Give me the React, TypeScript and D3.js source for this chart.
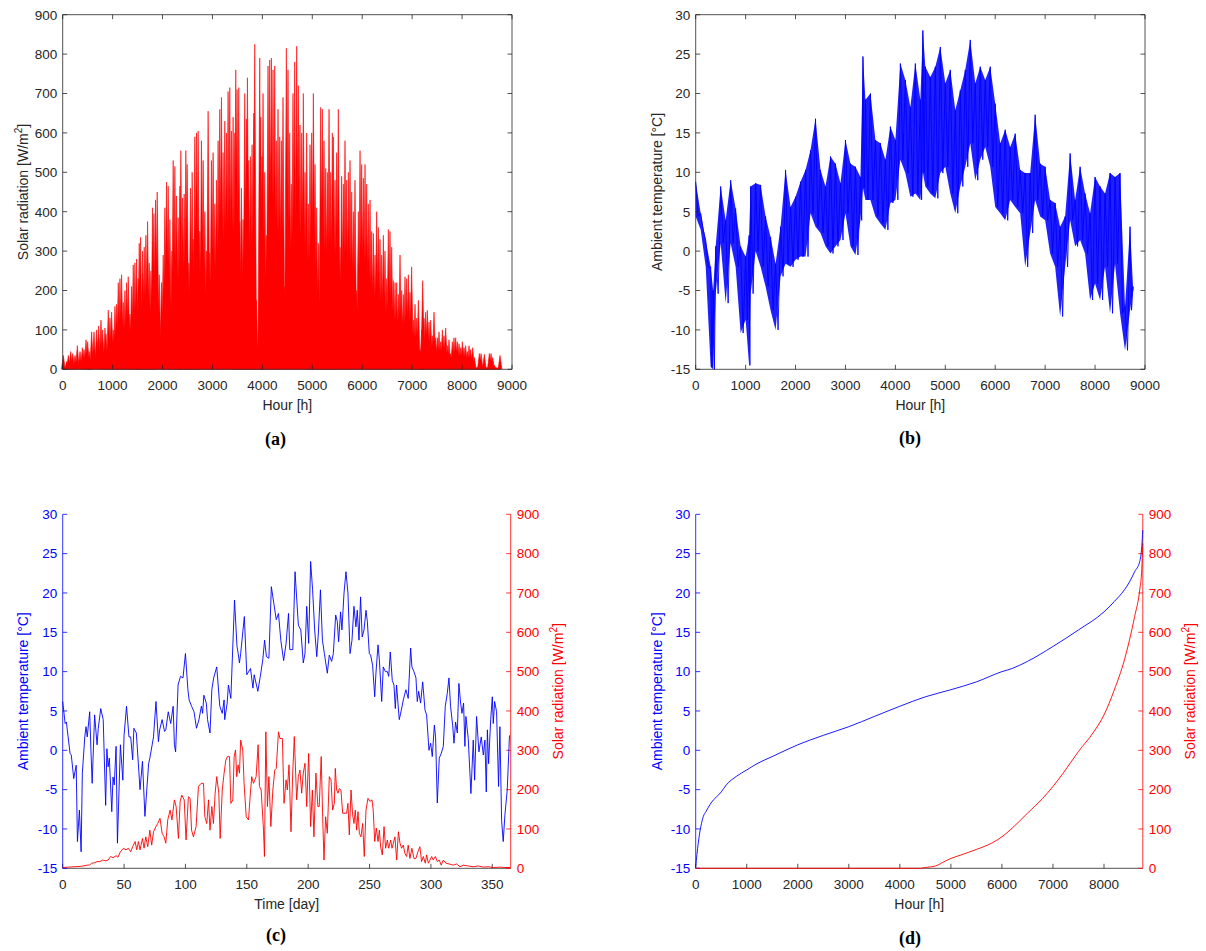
import React from "react";
import * as d3 from "d3";

// ---------- (a) hourly solar radiation: daily peak ----------
const aHours = [13,80,113,160,200,247,293,347,393,427,467,500,533,560,580,627,680,720,767,800,847,867,913,947,980,1013,1047,1080,1113,1147,1180,1213,1247,1280,1313,1347,1380,1413,1447,1480,1513,1533,1560,1600,1633,1667,1700,1733,1767,1800,1827,1860,1893,1933,1980,2013,2047,2080,2113,2147,2187,2213,2247,2280,2313,2347,2367,2400,2433,2467,2493,2527,2560,2593,2613,2647,2680,2713,2747,2780,2813,2847,2880,2913,2947,2980,3013,3047,3080,3113,3147,3180,3213,3247,3280,3313,3347,3380,3413,3447,3467,3493,3527,3547,3580,3613,3647,3680,3700,3727,3760,3793,3827,3847,3880,3913,3947,3967,3993,4013,4047,4080,4113,4147,4180,4213,4247,4280,4313,4347,4380,4413,4447,4480,4513,4547,4580,4613,4647,4687,4720,4753,4787,4820,4854,4887,4921,4954,4987,5021,5054,5087,5121,5141,5168,5201,5234,5268,5301,5335,5368,5401,5421,5455,5488,5521,5555,5588,5622,5655,5688,5722,5755,5789,5822,5855,5889,5922,5956,5989,6022,6056,6089,6122,6156,6189,6223,6256,6289,6323,6356,6389,6423,6456,6490,6523,6556,6590,6623,6657,6690,6723,6757,6790,6823,6857,6890,6924,6957,6990,7024,7057,7090,7124,7157,7191,7211,7237,7271,7304,7338,7371,7404,7438,7471,7505,7538,7571,7605,7638,7672,7705,7738,7772,7805,7838,7872,7905,7939,7972,8005,8039,8072,8106,8139,8172,8212,8246,8279,8313,8346,8380,8413,8446,8480,8513,8546,8580,8613,8646,8680,8726,8760];
const aPeak = [35,20,35,45,40,35,60,45,55,50,75,70,45,10,95,95,100,110,125,100,105,90,150,130,145,100,160,165,220,230,240,170,200,220,235,140,210,265,270,280,230,320,335,300,310,340,375,270,250,410,395,430,450,240,220,290,410,475,465,380,300,530,515,440,385,465,555,435,445,555,520,270,460,500,330,590,600,605,350,580,530,400,300,655,295,530,550,420,480,580,660,690,550,630,600,705,715,605,640,600,760,710,715,375,460,380,700,635,740,530,540,570,650,825,175,65,790,640,540,700,500,340,770,785,790,760,770,580,660,590,580,690,210,815,760,600,470,700,780,820,720,620,600,700,500,600,420,570,600,700,520,410,320,155,665,660,580,510,500,660,500,600,590,480,550,660,310,490,470,580,480,500,530,450,400,480,200,400,555,520,485,520,470,420,430,350,345,290,400,360,330,290,340,300,230,355,350,310,225,220,220,190,290,200,190,235,230,240,195,260,125,165,130,175,50,100,225,130,145,150,120,125,85,145,80,80,95,70,100,85,105,60,75,40,70,80,80,70,65,55,70,55,60,45,60,50,55,30,5,5,40,40,5,38,5,5,40,40,30,10,5,5,35];

// ---------- (b) hourly ambient temperature: upper / lower envelope ----------
const bHours = [0,100,200,300,350,400,500,600,700,800,900,1000,1070,1100,1200,1300,1400,1500,1600,1700,1800,1900,2000,2100,2200,2300,2400,2500,2600,2700,2800,2900,3000,3100,3200,3300,3350,3400,3500,3600,3700,3800,3900,4000,4100,4200,4300,4400,4500,4550,4600,4700,4800,4900,5000,5100,5200,5300,5400,5500,5600,5700,5800,5900,6000,6100,6200,6300,6400,6500,6600,6700,6800,6900,7000,7100,7200,7300,7400,7500,7600,7700,7800,7900,8000,8100,8200,8300,8400,8500,8600,8700,8760];
const bMax = [8.8,4.8,1.4,-2,-5,0.6,8.2,3.9,9,5.4,0.6,-0.7,2,8.2,8.6,8.4,4.4,1.8,-1.6,3.1,10.3,5.6,6.9,8.8,10.3,12.8,16.8,10.3,8.2,12,11.1,8.6,14.1,11.1,10.7,9.4,24.7,19.2,20,14.1,13.7,11.6,15.8,14.1,23.8,21.7,18.3,23.8,19.2,28,23.4,22.1,23.4,25.9,21.3,23,17.9,20.4,23,26.8,21.3,23.4,21.7,23.4,18.7,13.7,15.4,13.2,14.9,10.3,9.9,9.9,17.3,11.1,10.7,6.5,6.1,3.1,4.4,12.4,6.5,10.7,7.3,4.8,9.4,8.2,7.3,9.9,9.4,9.9,-7,3.1,-4.5];
const bMin = [4.4,2.7,-2,-14.7,-15,-5.4,1,-6.6,1,-2,-10.4,-8.7,-14.5,-5.4,0,-2,-4.5,-7.5,-10,-3.2,-1.6,-2,-1.1,-0.7,-0.7,4.8,3.1,2.3,0.6,-0.3,0.6,1.4,4.8,0.6,-0.5,3.9,8,6.5,6.5,4.4,3.5,2.7,6.1,6.5,11.6,9.9,6.9,7.3,6.5,10,8.2,7.3,6.7,9.9,10.7,7.3,4.8,8.2,10.7,13.7,9,11.6,13.2,10.7,5.6,4.8,3.9,6.5,5.6,4.8,-2,2.3,6.5,4.4,3.9,-0.3,-2,-8.3,-2,3.9,0.6,1.4,-0.3,-6.2,-4.1,-6.2,-2,-7.9,-1.6,-7.9,-12.6,-7.5,-5];

// ---------- (c) daily mean temperature and radiation ----------
const cTempDay = [0,2,3,6,7,9,11,12,13.6,15,16,18,19,20,22,23,24,26,28,29,31,33,35,36,37,38,40,41,42,43.5,44.6,47,49,50,52,54,55.4,57,58,60,63,65,67,70,71,74,76,78,79,81,83,84,86,88,90,91,92,94,96,98,100,102,103,105,107,109,111,113,114,115,117,118,120,121.5,123,125.5,128,130,131.5,132,134,135,137,140,142,143,144,145,148,150,153,155,156,159,161,163,164.5,166,168,170,172,174,175.8,177.7,180,182,184,185,187.5,189.3,192,194,196,197.4,198.8,200.4,202,203.6,205.3,207,208.3,210,211.6,213.2,215.6,217.2,219.1,220.5,222.4,223.7,224.8,226.4,227.5,229.2,230.8,232.4,234.1,235.7,237.3,238.9,240,241.4,242.7,244,245.5,247.1,248.2,249.8,250.9,252.5,254.2,255.2,256.9,258,259.9,261.2,262.9,264.5,265.6,266.9,268.5,269.9,271,272,274.2,275.9,277.5,279.6,281.5,283.5,284.5,286.2,287.8,288.9,290,291.6,293.3,295.2,296.5,298.4,299.8,301.1,302.8,303.8,305.2,306.8,308.4,310.1,311.7,313.3,314.7,316,317.7,318.8,320.1,321.5,322.8,324.2,325.3,326.6,327.7,328.5,330.4,332.6,334.5,335.6,337.2,339.1,341,342.7,344,345.1,346,347,348.7,350,350.8,351.9,353.5,355.1,356.2,357.6,358.9,360.3,362.2,364];
const cTemp = [6.2,3.4,3.6,-0.4,-0.6,-3.6,-1.9,-11.6,-7.6,-12.9,-2.9,1.7,3,1.7,4.9,0,-4.2,4.5,0.7,2.8,5.3,3.9,-7,0.2,-2.1,-1,-7.8,-3.4,-4.4,0.5,-11.8,0.7,-3.8,1.9,5.6,1.7,1.7,-1.2,2.8,2.2,-5,-1.4,-8.4,-1.7,-1,1.7,6.2,1.1,2.6,3.9,2.4,2.6,4.9,3.4,5.6,0.7,-0.2,8.3,9.4,9.2,12.3,7.7,6.4,5.6,4.9,2.8,3.9,5.6,4.7,7,6,3.9,2.2,7.7,9.2,10.6,5.6,4.7,6.4,3.9,6,8.3,6.6,19.1,13.2,12.3,11.1,12.3,17,9.6,10.4,7.9,9.6,7.5,9.4,11.5,14,11.9,11.7,20.8,18.7,16.6,17.4,14,11.4,13.6,17.4,12.8,12.8,22.7,15.9,15.3,11.1,12.3,18.3,13.6,24,20.4,15.3,11.9,14.9,20.4,14,12.3,9.8,12.1,11.3,12.3,17.2,16.4,13.8,17.6,15.3,20,22.7,20,12.3,14,18.3,15.7,17.8,14,19.5,14.4,15.3,17.8,16.4,12.3,12.1,10.8,6.8,9.8,13.4,11.5,6.2,10.6,10,10,9.4,12.5,8.9,8.3,5.3,8.3,3.9,5.1,6.4,7.7,6.6,13,10.6,10,9.2,6.2,7.5,6,8.7,5.1,4.5,0,0.9,-0.8,3.2,1.7,-6.7,-1,-0.4,0.5,5.6,7.2,9.2,5.6,3.2,0.9,3.6,2.2,8.5,6,4.7,6,0.5,4.3,1.5,-5.5,1.3,-3.8,4.3,-0.2,1.7,-0.6,1.3,-5.3,2.6,-1.7,3.9,6.8,3.4,6.2,4.9,-4.6,3,-8.9,-11.6,-8.2,-5,1.9];
const cRadDay = [0,5,10,15,20,22,23.6,25.8,28,30.4,32.6,35,37,39,41,43.5,45,47,49.5,51.6,53.5,55.4,57,59,60.3,61.7,63,65,66.3,67.7,69.3,71,72.5,74,76,77.4,79.3,81,82.6,84,85.6,87.5,89,91,92.4,94.3,95.7,97,99,100.5,102.4,103.8,105,106.5,108.7,110.6,112.8,114.7,115.8,117.4,118.8,120,121.5,122.8,124.2,125.5,127.2,128.3,130,131.5,132.9,134.2,135.9,137,138.6,139.7,140.8,141.8,142.9,144,145,146.7,147.8,149.5,151.4,152.7,154,155.4,157.6,159.2,160.3,161.7,163.6,164.4,165.5,166.8,168,169.6,171.2,172.8,174,175.8,177,179,180.3,182,183,184.4,186,187.4,188.7,190.6,192,193.3,194.7,196,197.4,198.8,200.4,202,203.4,204.7,206.3,207.9,209,210.6,211.8,212.9,214.2,215.6,217.2,218.6,219.9,221.3,222.1,223.2,224.3,225.4,226.7,228.1,230,231.3,232.4,233.5,234.9,236.2,237.3,238.4,239.5,240.6,241.7,243,244.4,245.7,247.1,248.7,250.3,252,253,254.2,255.5,256.9,258,259,260.4,261.8,263.1,264.5,265.6,267.2,268.3,269.4,270.7,272.1,273.5,274.8,276.1,277.5,278.8,280.2,281.5,282.9,284.5,286.2,287.8,289.4,291,292.4,293.8,295.4,296.5,297.9,299.2,300.6,301.9,303.6,305.2,306.8,308.4,310.1,312.2,314.9,318.2,320.9,323.7,326.3,330.4,334.5,338.6,342.7,346.7,350.8,356.2,360.3,364.4];
const cRad = [2,3,4,5,8,8.5,13,14,17,17,21,19,21,30,27,32,28,42,51,47,51,42,55,68,47,68,47,76,51,80,55,97,59,93,106,114,127,89,80,64,123,148,123,174,157,76,170,186,174,72,182,178,97,80,106,208,216,216,131,114,174,97,157,114,191,233,191,76,199,242,275,284,284,165,174,284,301,233,263,242,326,301,216,131,123,182,233,216,233,314,208,199,97,30,347,157,233,106,199,250,254,347,330,330,165,225,199,263,93,242,335,174,233,250,191,242,267,157,292,106,199,80,242,157,157,284,131,21,131,89,233,225,148,165,254,199,191,203,199,140,140,140,165,85,199,136,114,148,97,144,89,80,114,30,148,178,170,174,148,68,102,68,97,55,34,106,51,72,51,72,51,64,80,21,93,64,51,59,38,30,59,25,51,25,25,42,55,17,30,13,34,13,21,30,21,30,17,21,8,21,13,11,8,11,4,8,6,4,6,3,4,2,3,2,2];

// ---------- (d) sorted (duration) curves ----------
const dTempHours = [0,50,150,200,300,500,600,800,1000,1200,1500,2000,2500,3000,3500,4000,4500,5000,5500,6000,6200,6500,7000,7500,8000,8200,8400,8500,8600,8700,8740,8760];
const dTemp = [-14.8,-11.8,-8.4,-7.8,-6.7,-5.3,-4.4,-3.3,-2.5,-1.7,-0.8,0.7,1.9,3,4.3,5.6,6.8,7.7,8.7,10,10.4,11.3,13.2,15.3,17.6,18.9,20.4,21.4,22.7,24,25.9,28];
const dRadHours = [0,4400,4500,4700,4900,5000,5200,5500,5800,6000,6200,6500,6800,7000,7200,7500,7800,8000,8200,8400,8500,8600,8700,8740,8760];
const dRad = [0,0,2,6,19,25,34,48,64,80,102,140,178,208,242,297,347,390,453,530,581,640,708,760,826];

// tick labels
const hourTicks9000 = [0,1000,2000,3000,4000,5000,6000,7000,8000,9000];
const hourTicks8000 = [0,1000,2000,3000,4000,5000,6000,7000,8000];
const dayTicks = [0,50,100,150,200,250,300,350];
const radTicks = [0,100,200,300,400,500,600,700,800,900];
const tempTicks = [-15,-10,-5,0,5,10,15,20,25,30];

const FONT = "'Liberation Sans', Arial, Helvetica, sans-serif";
const SERIF = "'Liberation Serif', 'Times New Roman', serif";
const AX = "#262626";
const BLUE = "#0000ff";
const RED = "#ff0000";
const TL = 4.5;

type Box = { l: number; r: number; t: number; b: number };
const boxA: Box = { l: 62.7, r: 512, t: 14.7, b: 369.3 };
const boxB: Box = { l: 695.7, r: 1145, t: 14.7, b: 369.3 };
const boxC: Box = { l: 62.7, r: 510.7, t: 514.3, b: 868.3 };
const boxD: Box = { l: 695.7, r: 1142.8, t: 514.3, b: 868.3 };

function BottomAxis({ box, x, ticks, mirror }: any) {
  return (
    <g>
      <line x1={box.l} x2={box.r} y1={box.b} y2={box.b} stroke={AX} strokeWidth={0.8} />
      {mirror && <line x1={box.l} x2={box.r} y1={box.t} y2={box.t} stroke={AX} strokeWidth={0.8} />}
      {ticks.map((t: number) => (
        <g key={t}>
          <line x1={x(t)} x2={x(t)} y1={box.b} y2={box.b - TL} stroke={AX} strokeWidth={0.8} />
          {mirror && <line x1={x(t)} x2={x(t)} y1={box.t} y2={box.t + TL} stroke={AX} strokeWidth={0.8} />}
          <text x={x(t)} y={box.b + 20.5} textAnchor="middle" fontSize={13.5} fill={AX} fontFamily={FONT}>
            {t}
          </text>
        </g>
      ))}
    </g>
  );
}

function SideAxis({ box, y, ticks, side, color, labels = true }: any) {
  const x0 = side === "left" ? box.l : box.r;
  const dir = side === "left" ? 1 : -1;
  return (
    <g>
      <line x1={x0} x2={x0} y1={box.t} y2={box.b} stroke={color} strokeWidth={0.8} />
      {ticks.map((t: number) => (
        <g key={t}>
          <line x1={x0} x2={x0 + dir * TL} y1={y(t)} y2={y(t)} stroke={color} strokeWidth={0.8} />
          {labels && (
            <text
              x={side === "left" ? x0 - 5.5 : x0 + 6}
              y={y(t) + 4.8}
              textAnchor={side === "left" ? "end" : "start"}
              fontSize={13.5}
              fill={color}
              fontFamily={FONT}
            >
              {t}
            </text>
          )}
        </g>
      ))}
    </g>
  );
}

function XTitle({ box, text }: any) {
  return (
    <text x={(box.l + box.r) / 2} y={box.b + 40.5} textAnchor="middle" fontSize={14} fill={AX} fontFamily={FONT}>
      {text}
    </text>
  );
}

function YTitle({ x, box, color, children }: any) {
  return (
    <text
      transform={`translate(${x},${(box.t + box.b) / 2}) rotate(-90)`}
      textAnchor="middle"
      fontSize={14}
      fill={color}
      fontFamily={FONT}
    >
      {children}
    </text>
  );
}

const RadLabel = () => (
  <>
    Solar radiation [W/m
    <tspan dy={-6} fontSize={10}>2</tspan>
    <tspan dy={6}>]</tspan>
  </>
);

function PanelLabel({ x, y, text }: any) {
  return (
    <text x={x} y={y} textAnchor="middle" fontSize={18} fontWeight="bold" fontFamily={SERIF} fill="#000">
      {text}
    </text>
  );
}

export default function App() {
  // (a): each daily peak drawn as a filled spike standing on the zero line
  const xA = d3.scaleLinear().domain([0, 9000]).range([boxA.l, boxA.r]);
  const yA = d3.scaleLinear().domain([0, 900]).range([boxA.b, boxA.t]);
  const aPts: [number, number][] = [];
  aHours.forEach((h, i) => {
    aPts.push([h - 38, 0], [h, aPeak[i]], [h + 38, 0]);
  });
  const aPath = d3.line<[number, number]>().x((d) => xA(d[0])).y((d) => yA(d[1]))(aPts) || "";

  // (b)
  const xB = d3.scaleLinear().domain([0, 9000]).range([boxB.l, boxB.r]);
  const yB = d3.scaleLinear().domain([-15, 30]).range([boxB.b, boxB.t]);
  const bZig: [number, number][] = [];
  bHours.forEach((h, i) => {
    const next = i < bHours.length - 1 ? bHours[i + 1] : h;
    bZig.push([h, bMax[i]], [(h + next) / 2, bMin[i]]);
  });
  const bLine = d3.line<[number, number]>().x((d) => xB(d[0])).y((d) => yB(d[1]))(bZig) || "";
  const bArea =
    d3
      .area<number>()
      .x((_, i) => xB(bHours[i]))
      .y0((_, i) => yB(bMin[i]))
      .y1((_, i) => yB(bMax[i]))(bHours) || "";

  // (c)
  const xC = d3.scaleLinear().domain([0, 365]).range([boxC.l, boxC.r]);
  const yCT = d3.scaleLinear().domain([-15, 30]).range([boxC.b, boxC.t]);
  const yCR = d3.scaleLinear().domain([0, 900]).range([boxC.b, boxC.t]);
  const cTempPath =
    d3.line<number>().x((d) => xC(d)).y((_, i) => yCT(cTemp[i]))(cTempDay) || "";
  const cRadPath =
    d3.line<number>().x((d) => xC(d)).y((_, i) => yCR(cRad[i]))(cRadDay) || "";

  // (d)
  const xD = d3.scaleLinear().domain([0, 8760]).range([boxD.l, boxD.r]);
  const yDT = d3.scaleLinear().domain([-15, 30]).range([boxD.b, boxD.t]);
  const yDR = d3.scaleLinear().domain([0, 900]).range([boxD.b, boxD.t]);
  const dTempPath =
    d3.line<number>().curve(d3.curveMonotoneX).x((d) => xD(d)).y((_, i) => yDT(dTemp[i]))(dTempHours) || "";
  const dRadPath =
    d3.line<number>().curve(d3.curveMonotoneX).x((d) => xD(d)).y((_, i) => yDR(dRad[i]))(dRadHours) || "";

  return (
    <svg
      width={1206}
      height={951}
      style={{ position: "absolute", left: 0, top: 0, background: "#fff" }}
    >
      {/* (a) */}
      <path d={aPath} fill={RED} fillRule="nonzero" stroke={RED} strokeWidth={0.6} />
      <BottomAxis box={boxA} x={xA} ticks={hourTicks9000} mirror />
      <SideAxis box={boxA} y={yA} ticks={radTicks} side="left" color={AX} />
      <SideAxis box={boxA} y={yA} ticks={radTicks} side="right" color={AX} labels={false} />
      <XTitle box={boxA} text="Hour [h]" />
      <YTitle x={boxA.l - 35} box={boxA} color={AX}>
        <RadLabel />
      </YTitle>
      <PanelLabel x={275.5} y={444.5} text="(a)" />

      {/* (b) */}
      <path d={bArea} fill={BLUE} fillOpacity={0.88} stroke="none" />
      <path d={bLine} fill="none" stroke={BLUE} strokeWidth={0.9} />
      <BottomAxis box={boxB} x={xB} ticks={hourTicks9000} mirror />
      <SideAxis box={boxB} y={yB} ticks={tempTicks} side="left" color={AX} />
      <SideAxis box={boxB} y={yB} ticks={tempTicks} side="right" color={AX} labels={false} />
      <XTitle box={boxB} text="Hour [h]" />
      <YTitle x={boxB.l - 34} box={boxB} color={AX}>
        Ambient temperature [°C]
      </YTitle>
      <PanelLabel x={910} y={443.5} text="(b)" />

      {/* (c) */}
      <BottomAxis box={boxC} x={xC} ticks={dayTicks} />
      <SideAxis box={boxC} y={yCT} ticks={tempTicks} side="left" color={BLUE} />
      <SideAxis box={boxC} y={yCR} ticks={radTicks} side="right" color={RED} />
      <path d={cRadPath} fill="none" stroke={RED} strokeWidth={0.9} />
      <path d={cTempPath} fill="none" stroke={BLUE} strokeWidth={0.9} />
      <XTitle box={boxC} text="Time [day]" />
      <YTitle x={boxC.l - 35} box={boxC} color={BLUE}>
        Ambient temperature [°C]
      </YTitle>
      <YTitle x={boxC.r + 52} box={boxC} color={RED}>
        <RadLabel />
      </YTitle>
      <PanelLabel x={276} y={941} text="(c)" />

      {/* (d) */}
      <BottomAxis box={boxD} x={xD} ticks={hourTicks8000} />
      <SideAxis box={boxD} y={yDT} ticks={tempTicks} side="left" color={BLUE} />
      <SideAxis box={boxD} y={yDR} ticks={radTicks} side="right" color={RED} />
      <path d={dRadPath} fill="none" stroke={RED} strokeWidth={0.9} />
      <path d={dTempPath} fill="none" stroke={BLUE} strokeWidth={0.9} />
      <XTitle box={boxD} text="Hour [h]" />
      <YTitle x={boxD.l - 34} box={boxD} color={BLUE}>
        Ambient temperature [°C]
      </YTitle>
      <YTitle x={boxD.r + 52} box={boxD} color={RED}>
        <RadLabel />
      </YTitle>
      <PanelLabel x={910} y={943.5} text="(d)" />
    </svg>
  );
}
